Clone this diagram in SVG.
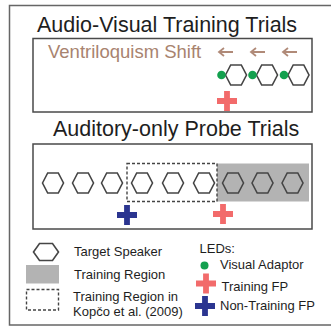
<svg xmlns="http://www.w3.org/2000/svg" width="331" height="329" viewBox="0 0 331 329">
<defs>
<style>
.t{font-family:"Liberation Sans",Arial,sans-serif;fill:#1e1e1e}
.title{font-size:21.5px}
.leg{font-size:13px}
.box{fill:none;stroke:#4a4a4a;stroke-width:1.5}
.hex{fill:none;stroke:#454545;stroke-width:1.6}
.dash{fill:none;stroke:#444;stroke-width:1.4;stroke-dasharray:3 2}
.dot{fill:#13a04e}
.red{fill:#f26b6b}
.blue{fill:#2b3590}
.arr{fill:none;stroke:#b08a78;stroke-width:1.8}
</style>
<polygon id="hx" points="-10.5,0 -5.3,-10 5.3,-10 10.5,0 5.3,10 -5.3,10"/>
<path id="cr" d="M-2.9,-10h5.8v7.1h7.1v5.8h-7.1v7.1h-5.8v-7.1h-7.1v-5.8h7.1z"/>
</defs>
<rect width="331" height="329" fill="#fff"/>
<rect x="9.5" y="5.5" width="330" height="319.5" fill="none" stroke="#666" stroke-width="1.5"/>

<g id="av-trials">
<text class="t title" x="37" y="32">Audio-Visual Training Trials</text>
<rect class="box" x="33" y="38.5" width="279" height="73.5"/>
<text x="48" y="58" font-family="Liberation Sans, Arial, sans-serif" font-size="18.5" fill="#a8836f">Ventriloquism Shift</text>
<g id="av-speakers">
<use href="#hx" class="hex" x="236" y="75"/>
<use href="#hx" class="hex" x="267" y="75"/>
<use href="#hx" class="hex" x="298.5" y="75"/>
<circle class="dot" cx="221.5" cy="75" r="4.3"/>
<circle class="dot" cx="252.5" cy="75" r="4.3"/>
<circle class="dot" cx="284" cy="75" r="4.3"/>
</g>
<use href="#cr" class="red" x="227" y="101"/>
</g>

<g id="shift-arrows">
<path class="arr" d="M233,52H219M224,48L219,52L224,56"/>
<path class="arr" d="M265,52H251M256,48L251,52L256,56"/>
<path class="arr" d="M297,52H283M288,48L283,52L288,56"/>
</g>

<g id="probe-trials">
<text class="t title" x="53" y="136">Auditory-only Probe Trials</text>
<rect class="box" x="33" y="144" width="279" height="85"/>
<rect x="217" y="163.5" width="92" height="38" fill="#b3b3b3"/>
<rect class="dash" x="127" y="163.5" width="90" height="38"/>
<g id="probe-speakers">
<use href="#hx" class="hex" x="53" y="183"/>
<use href="#hx" class="hex" x="83" y="183"/>
<use href="#hx" class="hex" x="112" y="183"/>
<use href="#hx" class="hex" x="142" y="183"/>
<use href="#hx" class="hex" x="173" y="183"/>
<use href="#hx" class="hex" x="204" y="183"/>
<use href="#hx" class="hex" x="233" y="183"/>
<use href="#hx" class="hex" x="262.5" y="183"/>
<use href="#hx" class="hex" x="292.5" y="183"/>
</g>
<use href="#cr" class="blue" x="127" y="215"/>
<use href="#cr" class="red" x="223" y="214"/>
</g>

<g id="legend">
<polygon class="hex" points="33.5,252 39.5,243.5 52.5,243.5 58.5,252 52.5,260.5 39.5,260.5"/>
<text class="t leg" x="74" y="256">Target Speaker</text>
<rect x="26" y="265" width="33" height="18.5" fill="#b3b3b3"/>
<text class="t leg" x="74" y="278.5">Training Region</text>
<rect class="dash" x="26.5" y="289.5" width="32" height="20.5"/>
<text class="t leg" x="73" y="301">Training Region in</text>
<text class="t leg" x="73" y="315.5">Kopčo et al. (2009)</text>
<text class="t leg" x="199.5" y="253">LEDs:</text>
<circle class="dot" cx="204.5" cy="265.5" r="4"/>
<text class="t leg" x="220" y="269">Visual Adaptor</text>
<use href="#cr" class="red" x="206" y="283.5"/>
<text class="t leg" x="221.5" y="291">Training FP</text>
<use href="#cr" class="blue" x="205" y="306"/>
<text class="t leg" x="220" y="310">Non-Training FP</text>
</g>
</svg>
